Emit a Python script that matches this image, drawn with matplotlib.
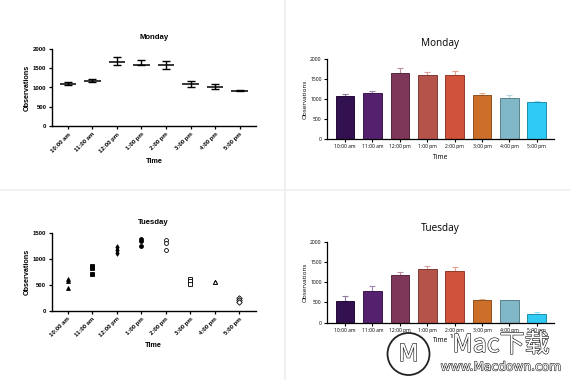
import numpy as np
import matplotlib
matplotlib.use("Agg")
import matplotlib.pyplot as plt
from matplotlib.lines import Line2D
from matplotlib.patches import Circle
import matplotlib.patheffects as pe

# ---------------- data ----------------
times = ["10:00 am", "11:00 am", "12:00 pm", "1:00 pm", "2:00 pm", "3:00 pm", "4:00 pm", "5:00 pm"]

mon_mean = [1085, 1160, 1655, 1595, 1585, 1095, 1025, 920]
mon_lo = [1075, 1140, 1590, 1580, 1490, 1020, 960, 905]
mon_hi = [1130, 1220, 1790, 1705, 1690, 1170, 1100, 940]
mon_sd = [50, 50, 110, 80, 100, 65, 70, 25]

tue_points = [
    [615, 580, 440],
    [870, 835, 710],
    [1225, 1185, 1125],
    [1385, 1345, 1260],
    [1375, 1315, 1185],
    [615, 570, 525],
    [565, 555, 550],
    [250, 200, 170],
]
tue_mean = [545, 795, 1180, 1315, 1282, 555, 555, 207]
tue_sd = [115, 105, 60, 90, 105, 40, 8, 65]

bar_colors = ["#33104f", "#55216e", "#7e3659", "#b5534a", "#d0523a", "#cc6f2b", "#80b8c8", "#30cbf5"]
tue_markers = ["^", "s", "d", "o", "o", "s", "^", "D"]
tue_filled = [True, True, True, True, False, False, False, False]

W, H = 570, 380
fig = plt.figure(figsize=(W / 100, H / 100), dpi=100)
fig.patch.set_facecolor("white")


def ax_px(x0, y0, x1, y1):
    return fig.add_axes([x0 / W, 1 - y1 / H, (x1 - x0) / W, (y1 - y0) / H])


# separators
fig.add_artist(Line2D([285 / W, 285 / W], [0, 1], transform=fig.transFigure, color="#eeeeee", lw=1.2))
fig.add_artist(Line2D([0, 1], [1 - 190 / H, 1 - 190 / H], transform=fig.transFigure, color="#eeeeee", lw=1.2))

BOLD = ["Liberation Sans", "DejaVu Sans"]
THIN = ["Open Sans", "DejaVu Sans"]
x = np.arange(len(times))


def style_left(ax, ymax):
    for s in ["top", "right"]:
        ax.spines[s].set_visible(False)
    for s in ["left", "bottom"]:
        ax.spines[s].set_linewidth(1.0)
    ax.set_ylim(0, ymax)
    ax.set_yticks(np.arange(0, ymax + 1, 500))
    ax.set_xlim(-0.65, 7.67)
    ax.set_xticks(x)
    ax.set_xticklabels(times, rotation=45, ha="right", rotation_mode="anchor",
                       fontsize=4.3, fontweight="bold", family=BOLD)
    for lab in ax.get_yticklabels():
        lab.set_fontsize(4.3)
        lab.set_fontweight("bold")
        lab.set_family(BOLD)
    ax.tick_params(length=2.5, width=0.9, pad=1.5)
    ax.set_ylabel("Observations", fontsize=5.2, fontweight="bold", family=BOLD, labelpad=1.5)
    ax.set_xlabel("Time", fontsize=5.2, fontweight="bold", family=BOLD, labelpad=3)


def style_right(ax):
    for s in ["top", "right"]:
        ax.spines[s].set_visible(False)
    for s in ["left", "bottom"]:
        ax.spines[s].set_linewidth(0.9)
    ax.set_ylim(0, 2000)
    ax.set_yticks(np.arange(0, 2001, 500))
    ax.set_xlim(-0.67, 7.63)
    ax.set_xticks(x)
    ax.set_xticklabels(times, fontsize=3.6, family=THIN)
    for lab in ax.get_yticklabels():
        lab.set_fontsize(3.6)
        lab.set_family(THIN)
    ax.tick_params(length=2.2, width=0.8, pad=1.5)
    ax.set_ylabel("Observations", fontsize=4.6, family=THIN, labelpad=2)
    ax.set_xlabel("Time", fontsize=4.8, family=THIN, labelpad=3)


def darker(c, f=0.7):
    r, g, b = matplotlib.colors.to_rgb(c)
    return (r * f, g * f, b * f)


def lighter(c, f=0.5):
    r, g, b = matplotlib.colors.to_rgb(c)
    return (r + (1 - r) * f, g + (1 - g) * f, b + (1 - b) * f)


# ---------------- top-left: Monday mean + range ----------------
ax1 = ax_px(52, 49, 256, 126)
lo = np.array(mon_mean) - np.array(mon_lo)
hi = np.array(mon_hi) - np.array(mon_mean)
ax1.errorbar(x, mon_mean, yerr=[lo, hi], fmt="none", ecolor="black", elinewidth=1.0, capsize=2.9, capthick=1.0)
ax1.hlines(mon_mean, x - 0.33, x + 0.33, color="black", lw=1.1)
style_left(ax1, 2000)
ax1.set_title("Monday", fontsize=5.6, fontweight="bold", family=BOLD, pad=7)

# ---------------- bottom-left: Tuesday scatter ----------------
ax3 = ax_px(51.7, 233.3, 255.7, 310.7)
for i, pts in enumerate(tue_points):
    fc = "black" if tue_filled[i] else "white"
    ax3.plot([x[i]] * len(pts), pts, linestyle="none", marker=tue_markers[i], ms=2.8,
             mfc=fc, mec="black", mew=0.6)
style_left(ax3, 1500)
ax3.set_title("Tuesday", fontsize=5.6, fontweight="bold", family=BOLD, pad=7)

# ---------------- right bar charts ----------------
for (y0, y1, means, sds, title, tpad) in [(58.7, 139.3, mon_mean, mon_sd, "Monday", 9),
                                           (241.7, 322.7, tue_mean, tue_sd, "Tuesday", 8)]:
    ax = ax_px(326.7, y0, 554, y1)
    ax.bar(x, means, width=0.68, color=bar_colors, edgecolor=[darker(c) for c in bar_colors],
           linewidth=0.7, zorder=2)
    for i in range(len(x)):
        ax.errorbar(x[i], means[i], yerr=[[0], [sds[i]]], fmt="none",
                    ecolor=lighter(bar_colors[i], 0.45), elinewidth=0.8, capsize=2.4, capthick=0.8, zorder=1)
    style_right(ax)
    ax.set_title(title, fontsize=7.2, family=THIN, pad=tpad)

# ---------------- watermark ----------------
stroke = [pe.withStroke(linewidth=0.9, foreground="#222222")]
fig.add_artist(Circle((4.085, (H - 354) / 100), 0.21, transform=fig.dpi_scale_trans,
                      facecolor="none", edgecolor="#222222", lw=1.3, zorder=10))
fig.text(408.5 / W, 1 - 354 / H, "M", fontsize=17, color="white", ha="center", va="center",
         family=["DejaVu Sans"], path_effects=stroke, zorder=11)
fig.text(501 / W, 1 - 345 / H, "Mac下载", fontsize=18, color="white", ha="center", va="center",
         family=["Noto Sans CJK SC", "DejaVu Sans"], path_effects=stroke, zorder=11)
fig.text(501 / W, 1 - 367 / H, "www.Macdown.com", fontsize=8.8, color="white", ha="center", va="center",
         family=["DejaVu Sans"], path_effects=[pe.withStroke(linewidth=0.8, foreground="#222222")], zorder=11)
fig.text(451 / W, 1 - 337 / H, "TI", fontsize=3.5, color="#333333", ha="center", va="center", zorder=11)

fig.savefig("out.png", dpi=100, facecolor="white")
